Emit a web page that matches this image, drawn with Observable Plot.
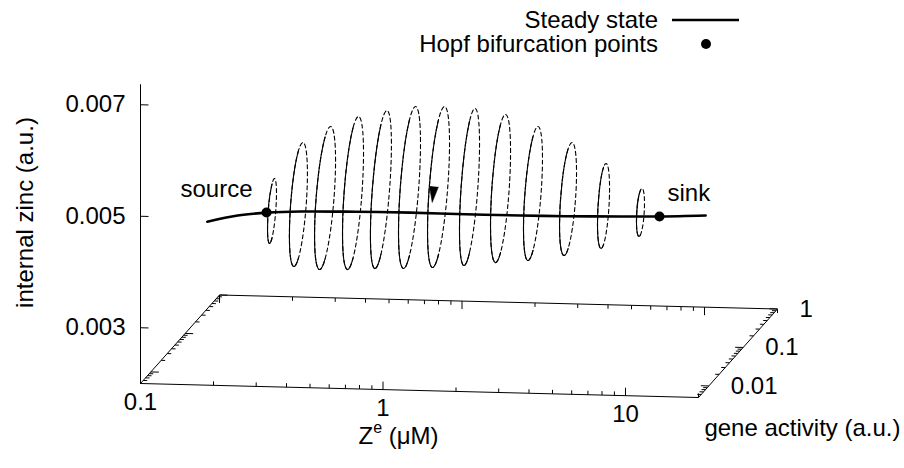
<!DOCTYPE html>
<html>
<head>
<meta charset="utf-8">
<script src="https://cdn.jsdelivr.net/npm/d3@7"></script>
<script src="https://cdn.jsdelivr.net/npm/@observablehq/plot@0.6"></script>
<style>
  body { margin: 0; background: #fff; font-family: "Liberation Sans", Arial, Helvetica, sans-serif; }
  #top { position: relative; width: 904px; height: 62px; }
  #legend { position: absolute; top: 8px; right: 165px; display: grid; grid-template-columns: auto 67px;
            column-gap: 14px; font-size: 24px; line-height: 24px; color: #000; }
  #legend .lab { text-align: right; white-space: nowrap; }
  #legend svg { display: block; }
</style>
</head>
<body>
<div id="top">
  <div id="legend">
    <span class="lab">Steady state</span>
    <svg width="67" height="24"><line x1="0" x2="67" y1="12" y2="12" stroke="#000" stroke-width="2.5"/></svg>
    <span class="lab">Hopf bifurcation points</span>
    <svg width="67" height="24"><circle cx="34" cy="12" r="5" fill="#000"/></svg>
  </div>
</div>
<div id="chart"></div>
<script>
// ---------------- data ----------------
// axis ranges of the 3-D box
const zeRange   = [0.1, 20];        // Z^e (µM), log
const geneRange = [0.005, 1];       // gene activity (a.u.), log
const zincRange = [0.002, 0.00736]; // internal zinc (a.u.)

// tick values and labels
const zincTicks = [0.003, 0.005, 0.007];
const zincTickLabels = ["0.003", "0.005", "0.007"];
const zeMajorTicks = [0.1, 1, 10];
const zeTickLabels = ["0.1", "1", "10"];
const zeMinorTicks = [0.2, 0.3, 0.4, 0.5, 0.6, 0.7, 0.8, 0.9, 2, 3, 4, 5, 6, 7, 8, 9, 20];
const geneMajorTicks = [0.01, 0.1, 1];
const geneTickLabels = ["0.01", "0.1", "1"];
const geneMinorTicks = [0.006, 0.007, 0.008, 0.009, 0.02, 0.03, 0.04, 0.05, 0.06, 0.07, 0.08, 0.09,
                        0.2, 0.3, 0.4, 0.5, 0.6, 0.7, 0.8, 0.9];

// steady state branch
const zeSteady   = [0.171, 0.228, 0.303, 0.414, 0.698, 1.18, 1.98, 3.34, 5.13, 8.65, 12.6, 19.4];
const geneSteady = [0.01, 0.01, 0.01, 0.01, 0.01, 0.01, 0.01, 0.01, 0.01, 0.01, 0.01, 0.01];
const zincSteady = [0.00472, 0.004845, 0.00491, 0.004945, 0.004965, 0.004975, 0.00497, 0.004972,
                    0.00498, 0.0050, 0.005017, 0.005055];

// Hopf bifurcation points
const hopfNames = ["source", "sink"];
const zeHopf    = [0.300, 12.52];
const geneHopf  = [0.01, 0.01];
const zincHopf  = [0.004911, 0.005016];

// limit cycles (one per Z^e value): gene extremes and zinc at conjugate points
const zeLoop       = [0.316, 0.406, 0.523, 0.682, 0.889, 1.166, 1.536, 2.061, 2.767, 3.766, 5.252, 7.357, 10.45];
const geneLoLoop   = [0.0074, 0.00547, 0.00494, 0.00494, 0.00494, 0.00478, 0.00478, 0.00511, 0.00511, 0.00529, 0.00566, 0.00668, 0.00765];
const geneHiLoop   = [0.0135, 0.0183, 0.0202, 0.0202, 0.0202, 0.0209, 0.0209, 0.0196, 0.0196, 0.0189, 0.0177, 0.0150, 0.0131];
const zincAtGeneLo = [0.004707, 0.004694, 0.004737, 0.004792, 0.004776, 0.004853, 0.004879, 0.004886, 0.004984, 0.004930, 0.004983, 0.004983, 0.004999];
const zincAtGeneHi = [0.005175, 0.005444, 0.005659, 0.005808, 0.005974, 0.005995, 0.006013, 0.006034, 0.005910, 0.005814, 0.005595, 0.005377, 0.005161];
const zincLoopTop  = [0.005425, 0.006032, 0.006291, 0.006469, 0.006538, 0.006642, 0.006656, 0.006636, 0.006597, 0.006394, 0.006183, 0.005873, 0.005479];
const zincLoopBot  = [0.004457, 0.004106, 0.004105, 0.004131, 0.004212, 0.004206, 0.004236, 0.004284, 0.004297, 0.004350, 0.004395, 0.004487, 0.004681];

// direction arrow on one cycle
const arrowZe = [1.536], arrowGene = [0.00692], arrowZinc = [0.005422];

// ---------------- 3-D view (gnuplot-like oblique projection) ----------------
const VIEW = {vx: 0.1416, uy: -0.0251, vy: 0.1586, wy: 0.5355};
const L10 = Math.log10;
function P(ze, g, z) {
  const u = L10(ze / zeRange[0]) / L10(zeRange[1] / zeRange[0]);
  const v = L10(g / geneRange[0]) / L10(geneRange[1] / geneRange[0]);
  const w = (z - zincRange[0]) / (zincRange[1] - zincRange[0]);
  return {px: u + VIEW.vx * v, py: VIEW.uy * u + VIEW.vy * v + VIEW.wy * w};
}
function seg(a, b) { return {x1: a.px, y1: a.py, x2: b.px, y2: b.py}; }

const zf = zincRange[0];
const [ze0, ze1] = zeRange, [g0, g1] = geneRange;

// box floor and vertical axis
const floor = [[ze0, g0], [ze1, g0], [ze1, g1], [ze0, g1], [ze0, g0]].map(([a, b]) => P(a, b, zf));
const zAxis = [P(ze0, g0, zf), P(ze0, g0, zincRange[1])];

// tick segments (lengths in data units of the box)
const tickDecMajor = 0.033, tickDecMinor = 0.0165, tickZMajor = 0.000143, tickZMinor = 0.0000717;
const ticks = [];
zincTicks.forEach(z => ticks.push(seg(P(ze0, g0, z), P(ze0 * 10 ** tickDecMajor, g0, z))));
zeMajorTicks.forEach(t => {
  ticks.push(seg(P(t, g0, zf), P(t, g0, zf + tickZMajor)));
  ticks.push(seg(P(t, g1, zf), P(t, g1, zf - tickZMajor)));
});
zeMinorTicks.forEach(t => {
  ticks.push(seg(P(t, g0, zf), P(t, g0, zf + tickZMinor)));
  ticks.push(seg(P(t, g1, zf), P(t, g1, zf - tickZMinor)));
});
geneMajorTicks.forEach(g => {
  ticks.push(seg(P(ze0, g, zf), P(ze0 * 10 ** tickDecMajor, g, zf)));
  ticks.push(seg(P(ze1, g, zf), P(ze1 / 10 ** tickDecMajor, g, zf)));
});
geneMinorTicks.forEach(g => {
  ticks.push(seg(P(ze0, g, zf), P(ze0 * 10 ** tickDecMinor, g, zf)));
  ticks.push(seg(P(ze1, g, zf), P(ze1 / 10 ** tickDecMinor, g, zf)));
});

const zincLabelRows = zincTicks.map((z, i) => ({...P(ze0, g0, z), label: zincTickLabels[i]}));
const zeLabelRows = zeMajorTicks.map((t, i) => ({...P(t, g0, zf), label: zeTickLabels[i]}));
const geneLabelRows = geneMajorTicks.map((g, i) => ({...P(ze1, g, zf), label: geneTickLabels[i]}));

const steadyRows = zeSteady.map((ze, i) => P(ze, geneSteady[i], zincSteady[i]));
const hopfRows = hopfNames.map((name, i) => ({...P(zeHopf[i], geneHopf[i], zincHopf[i]), name}));

const loopRows = [];
zeLoop.forEach((ze, i) => {
  const gMid = Math.sqrt(geneLoLoop[i] * geneHiLoop[i]);
  [[geneHiLoop[i], zincAtGeneHi[i]], [gMid, zincLoopTop[i]],
   [geneLoLoop[i], zincAtGeneLo[i]], [gMid, zincLoopBot[i]]]
    .forEach(([g, z]) => loopRows.push({loop: i, ...P(ze, g, z)}));
});
const arrowRows = arrowZe.map((ze, i) => P(ze, arrowGene[i], arrowZinc[i]));

// ---------------- plot ----------------
const FS = 24;
const SOLID = "#000001";   // tag colours used to find marks after rendering
const TITLE = "#000002";
const loopCurve = {x: "px", y: "py", z: "loop", curve: "cardinal-closed", tension: -0.657, strokeWidth: 1.1};
const svg = Plot.plot({
  width: 904, height: 406,
  marginTop: 0, marginRight: 0, marginBottom: 0, marginLeft: 0,
  x: {domain: [-0.25090, 1.36918], range: [0, 904], axis: null},
  y: {domain: [-0.15233, 0.57527], range: [406, 0], axis: null},
  style: {fontFamily: "'Liberation Sans', Arial, Helvetica, sans-serif", fontSize: "24px", background: "#fff", color: "#000"},
  marks: [
    Plot.line(floor, {x: "px", y: "py", stroke: "#000", strokeWidth: 1}),
    Plot.line(zAxis, {x: "px", y: "py", stroke: "#000", strokeWidth: 1}),
    Plot.link(ticks, {x1: "x1", y1: "y1", x2: "x2", y2: "y2", stroke: "#000", strokeWidth: 1}),
    Plot.text(zincLabelRows, {x: "px", y: "py", text: "label", textAnchor: "end", dx: -15, fontSize: FS}),
    Plot.text(zeLabelRows, {x: "px", y: "py", text: "label", dy: 19, fontSize: FS}),
    Plot.text(geneLabelRows, {x: "px", y: "py", text: "label", textAnchor: "start", dx: 22, fontSize: FS}),
    Plot.text(["internal zinc (a.u.)"], {frameAnchor: "left", dx: 25, dy: -53, rotate: -90,
                                         textAnchor: "middle", lineAnchor: "middle", fontSize: FS}),
    Plot.text(["Z e (μM)"], {frameAnchor: "bottom-left", dx: 398, dy: -32, textAnchor: "middle",
                             lineAnchor: "middle", fontSize: FS, fill: TITLE}),
    Plot.text(["gene activity (a.u.)"], {frameAnchor: "bottom-right", dx: -4, dy: -40, textAnchor: "end",
                                         lineAnchor: "middle", fontSize: FS}),
    // limit cycles: dashed full loop + solid front half
    Plot.line(loopRows, {...loopCurve, stroke: "#000", strokeDasharray: "4,3"}),
    Plot.line(loopRows, {...loopCurve, stroke: SOLID}),
    // steady state
    Plot.line(steadyRows, {x: "px", y: "py", curve: "catmull-rom", stroke: "#000", strokeWidth: 2.6}),
    // arrow
    Plot.vector(arrowRows, {x: "px", y: "py", shape: "spike", length: 16, r: 4.5, rotate: 186, anchor: "middle",
                            fill: "#000", fillOpacity: 1, stroke: "#000", strokeWidth: 0.5}),
    // Hopf points and labels
    Plot.dot(hopfRows, {x: "px", y: "py", r: 5, fill: "#000"}),
    Plot.text(hopfRows.filter(d => d.name === "source"), {x: "px", y: "py", text: "name", textAnchor: "end", dx: -14, dy: -23, fontSize: FS}),
    Plot.text(hopfRows.filter(d => d.name === "sink"), {x: "px", y: "py", text: "name", textAnchor: "start", dx: 8, dy: -23, fontSize: FS})
  ]
});
document.getElementById("chart").appendChild(svg);

const isTag = (el, attr, tag) => (el.getAttribute(attr) || "").toLowerCase() === tag;

// solid half of each cycle
svg.querySelectorAll("g").forEach(g => {
  if (!isTag(g, "stroke", SOLID)) return;
  g.setAttribute("stroke", "#000");
  g.querySelectorAll("path").forEach(p => {
    const len = p.getTotalLength();
    p.setAttribute("stroke-dasharray", `${len / 2} ${len}`);
  });
});

// superscript in the Z^e title
const ns = "http://www.w3.org/2000/svg";
svg.querySelectorAll("g").forEach(g => {
  if (!isTag(g, "fill", TITLE)) return;
  g.setAttribute("fill", "#000");
  const zt = g.querySelector("text");
  if (!zt) return;
  zt.textContent = "";
  [["Z", null, null], ["e", "16", "-11"], [" (μM)", null, "11"]].forEach(([s, fs, dy]) => {
    const t = document.createElementNS(ns, "tspan");
    t.textContent = s;
    if (fs) t.setAttribute("font-size", fs);
    if (dy) t.setAttribute("dy", dy);
    zt.appendChild(t);
  });
});
</script>
</body>
</html>
